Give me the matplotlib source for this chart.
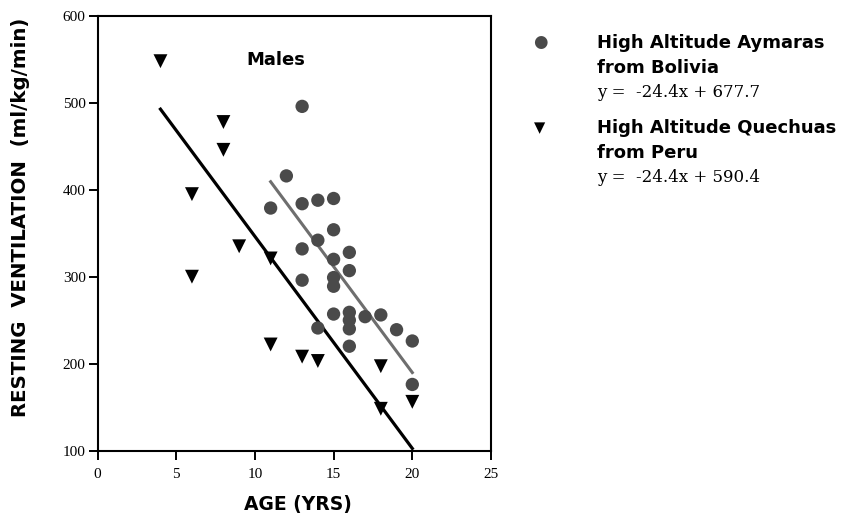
import numpy as np
import matplotlib.pyplot as plt

# High Altitude Aymaras from Bolivia (circles)
aym_age = [13, 12, 11, 13, 14, 15, 15, 14, 13, 16, 15, 16, 15, 13, 15,
           15, 16, 17, 18, 16, 16, 14, 19, 20, 16, 20]
aym_vent = [496, 416, 379, 384, 388, 390, 354, 342, 332, 328, 320, 307, 299, 296, 289,
            257, 259, 254, 256, 250, 240, 241, 239, 226, 220, 176]

# High Altitude Quechuas from Peru (triangles)
que_age = [4, 8, 8, 6, 6, 9, 11, 11, 13, 14, 18, 18, 20]
que_vent = [548, 478, 446, 395, 300, 335, 321, 222, 208, 203, 197, 148, 156]

# regression lines  y = a*x + b
aym_fit = (-24.4, 677.7)
que_fit = (-24.4, 590.4)
aym_range = [11, 20]
que_range = [4, 20]

xticks = [0, 5, 10, 15, 20, 25]
yticks = [100, 200, 300, 400, 500, 600]

serif = 'Liberation Serif'
bold = 'DejaVu Sans'
circ_col = '#4a4a4a'
line_col = '#6e6e6e'

W, H = 846, 514
fig = plt.figure(figsize=(W / 100, H / 100), dpi=100)
ax = fig.add_axes([97.5 / W, 1 - 450.5 / H, 393.5 / W, 434.5 / H])

ax.scatter(aym_age, aym_vent, s=92, marker='o', color=circ_col, edgecolors='none', zorder=3)
ax.scatter(que_age, que_vent, s=100, marker='v', color='black', edgecolors='none', zorder=3)

xa = np.array(aym_range)
ax.plot(xa, aym_fit[0] * xa + aym_fit[1], color=line_col, lw=2.2, zorder=2)
xq = np.array(que_range)
ax.plot(xq, que_fit[0] * xq + que_fit[1], color='black', lw=2.3, zorder=2)

ax.set_xlim(0, 25)
ax.set_ylim(100, 600)
ax.set_xticks(xticks)
ax.set_yticks(yticks)
ax.tick_params(direction='out', length=6.5, width=1.4, labelsize=11)
ax.tick_params(axis='x', pad=6)
ax.tick_params(axis='y', pad=2)
for lab in ax.get_xticklabels() + ax.get_yticklabels():
    lab.set_fontfamily(serif)
for s in ax.spines.values():
    s.set_linewidth(1.5)

ax.set_xlabel('AGE (YRS)', fontfamily=bold, fontweight='bold', fontsize=13.5)
ax.xaxis.set_label_coords((297.5 - 97.5) / 393.5, -(495 - 450.5) / 434.5)
ax.set_ylabel('RESTING  VENTILATION  (ml/kg/min)', fontfamily=bold, fontweight='bold',
              fontsize=14.2, va='center')
ax.yaxis.set_label_coords((20.5 - 97.5) / 393.5, (450.5 - 217) / 434.5)
ax.text(11.3, 549, 'Males', fontfamily=bold, fontweight='bold', fontsize=13, ha='center', va='center')

# legend drawn by hand in figure coords
tx = 597 / W
fig.text(540 / W, 1 - 42 / H, '\u25cf', color=circ_col, fontsize=12, ha='center', va='center',
         fontfamily='DejaVu Sans')
fig.text(tx, 1 - 48 / H, 'High Altitude Aymaras', fontfamily=bold, fontweight='bold',
         fontsize=13, va='baseline')
fig.text(tx, 1 - 73 / H, 'from Bolivia', fontfamily=bold, fontweight='bold',
         fontsize=13, va='baseline')
fig.text(tx, 1 - 97 / H, 'y =  %.1fx + %.1f' % aym_fit, fontfamily='DejaVu Serif',
         fontsize=12, va='baseline')

fig.text(540 / W, 1 - 128 / H, '\u25bc', color='black', fontsize=10.5, ha='center', va='center',
         fontfamily='DejaVu Sans')
fig.text(tx, 1 - 133 / H, 'High Altitude Quechuas', fontfamily=bold, fontweight='bold',
         fontsize=13, va='baseline')
fig.text(tx, 1 - 158 / H, 'from Peru', fontfamily=bold, fontweight='bold',
         fontsize=13, va='baseline')
fig.text(tx, 1 - 182 / H, 'y =  %.1fx + %.1f' % que_fit, fontfamily='DejaVu Serif',
         fontsize=12, va='baseline')

fig.savefig('out.png', dpi=100)
